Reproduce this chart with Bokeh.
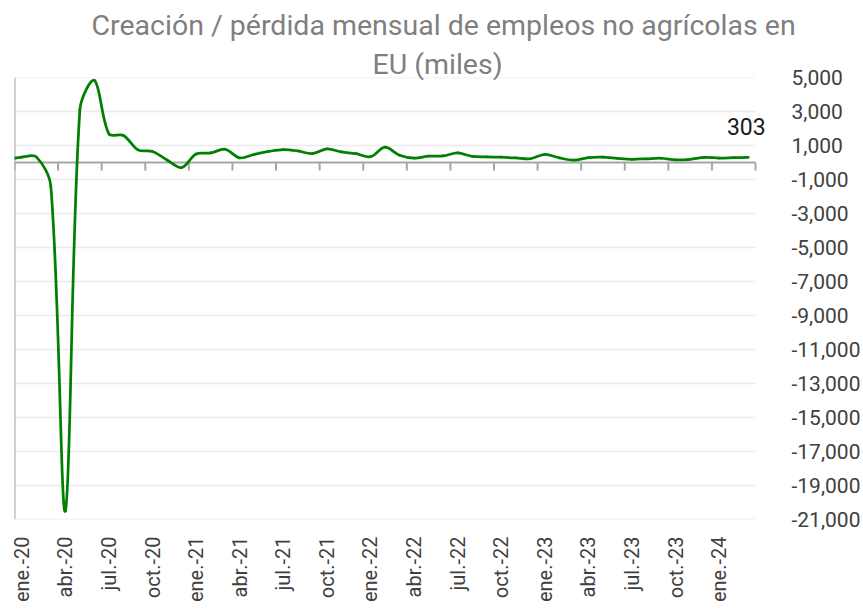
import math
import numpy as np
from bokeh.plotting import figure
from bokeh.models import Range1d, FixedTicker, NumeralTickFormatter, Title
from bokeh.core.properties import value
from bokeh.embed import file_html
from bokeh.resources import INLINE

# ---------------- data ----------------
title_line1 = "Creación / pérdida mensual de empleos no agrícolas en"
title_line2 = "EU (miles)"

# monthly change in nonfarm payrolls (thousands), dic.-19 .. mar.-24
jobs_2019 = [180]
jobs_2020 = [315, 330, -1400, -20500, 3100, 4830, 1680, 1590, 740, 650, 150, -300]
jobs_2021 = [500, 560, 780, 270, 480, 650, 760, 680, 520, 800, 620, 520]
jobs_2022 = [340, 900, 430, 260, 370, 390, 560, 360, 330, 310, 270, 220]
jobs_2023 = [480, 270, 140, 290, 310, 240, 190, 220, 250, 160, 190, 300]
jobs_2024 = [260, 280, 303]

tick_labels = ["ene.-20", "abr.-20", "jul.-20", "oct.-20",
               "ene.-21", "abr.-21", "jul.-21", "oct.-21",
               "ene.-22", "abr.-22", "jul.-22", "oct.-22",
               "ene.-23", "abr.-23", "jul.-23", "oct.-23",
               "ene.-24"]
y_ticks = list(range(-21000, 5001, 2000))

# ---------------- layout constants (pixels) ----------------
W, H = 863, 612
FL, FT, FB = 14, 73, 519          # frame left / top / bottom
DATA_R = 758                      # right end of the category area
FR = 769                          # frame right (room for end label)

jobs = jobs_2019 + jobs_2020 + jobs_2021 + jobs_2022 + jobs_2023 + jobs_2024
ys = np.array(jobs, dtype=float)
xs = np.arange(len(jobs), dtype=float) - 1.0   # ene.-20 -> 0
n_visible = len(jobs) - 1
x_start, x_end = -0.5, n_visible - 0.5

SX = (DATA_R - FL) / (x_end - x_start)
SY = (FB - FT) / (y_ticks[-1] - y_ticks[0])
x_frame_end = x_end + (FR - DATA_R) / SX

def dist(i, j):
    return math.hypot((xs[j] - xs[i]) * SX, (ys[j] - ys[i]) * SY)

n = len(xs)
bx0, by0, bx1, by1, cx0, cy0, cx1, cy1 = [], [], [], [], [], [], [], []
for i in range(n - 1):
    a, b, c = max(i - 1, 0), i + 1, min(i + 2, n - 1)
    d01, d12, d23 = dist(a, i), dist(i, b), dist(b, c)
    f1 = d12 / (d01 + d12) / 3 if d01 + d12 > 0 else 0
    f2 = d12 / (d12 + d23) / 3 if d12 + d23 > 0 else 0
    bx0.append(xs[i]); by0.append(ys[i]); bx1.append(xs[b]); by1.append(ys[b])
    cx0.append(xs[i] + (xs[b] - xs[a]) * f1); cy0.append(ys[i] + (ys[b] - ys[a]) * f1)
    cx1.append(xs[b] - (xs[c] - xs[i]) * f2); cy1.append(ys[b] - (ys[c] - ys[i]) * f2)

# ---------------- figure ----------------
p = figure(width=W, height=H, output_backend="svg", toolbar_location=None,
           x_range=Range1d(x_start, x_frame_end), y_range=Range1d(y_ticks[0], y_ticks[-1]),
           y_axis_location="right",
           min_border_left=FL, min_border_right=W - FR, min_border_top=FT, min_border_bottom=H - FB)
p.outline_line_color = None
p.xgrid.grid_line_color = None
p.ygrid.grid_line_color = None

# title: two lines (line 2 nearest the plot)
TITLE_COLOR = "#7f7f7f"
p.title.text = ""
p.add_layout(Title(text=title_line2, align="left", offset=358, standoff=-6,
                   text_font="Roboto", text_font_size="28.5px", text_font_style="normal",
                   text_color=TITLE_COLOR), "above")
p.add_layout(Title(text=title_line1, align="left", offset=77, standoff=13,
                   text_font="Roboto", text_font_size="28.5px", text_font_style="normal",
                   text_color=TITLE_COLOR), "above")

# right y axis
p.yaxis.ticker = FixedTicker(ticks=y_ticks)
p.yaxis.formatter = NumeralTickFormatter(format="0,0")
p.yaxis.axis_line_color = None
p.yaxis.major_tick_line_color = None
p.yaxis.minor_tick_line_color = None
p.yaxis.major_tick_out = 0
p.yaxis.major_tick_in = 0
p.yaxis.major_label_standoff = 25
p.yaxis.major_label_text_font = "Roboto"
p.yaxis.major_label_text_font_size = "21px"
p.yaxis.major_label_text_color = "#404040"

# bottom x axis (labels only, at low position)
label_pos = list(range(0, n_visible, 3))
p.xaxis.ticker = FixedTicker(ticks=label_pos)
p.xaxis.major_label_overrides = {pos: lab for pos, lab in zip(label_pos, tick_labels)}
p.xaxis.axis_line_color = None
p.xaxis.major_tick_line_color = None
p.xaxis.minor_tick_line_color = None
p.xaxis.major_tick_out = 0
p.xaxis.major_tick_in = 0
p.xaxis.major_label_orientation = math.pi / 2
p.xaxis.major_label_standoff = 17
p.xaxis.major_label_text_font = "Roboto"
p.xaxis.major_label_text_font_size = "20px"
p.xaxis.major_label_text_color = "#404040"

# horizontal gridlines over the category area
p.segment(x0=[x_start] * len(y_ticks), y0=y_ticks, x1=[x_end] * len(y_ticks), y1=y_ticks,
          line_color="#ebebeb", line_width=1.5)

# zero line, left line and quarter tick marks
axis_gray = "#a6a6a6"
p.segment(x0=[x_start], y0=[0], x1=[x_end], y1=[0], line_color=axis_gray, line_width=2)
p.segment(x0=[x_start], y0=[y_ticks[0]], x1=[x_start], y1=[y_ticks[-1]],
          line_color=axis_gray, line_width=2)
bounds = [x_start + k for k in range(0, n_visible + 1, 3)]
tick_len = 8 / SY
p.segment(x0=bounds, y0=[0] * len(bounds), x1=bounds, y1=[-tick_len] * len(bounds),
          line_color=axis_gray, line_width=2)

# smoothed series line
p.bezier(x0=bx0, y0=by0, x1=bx1, y1=by1, cx0=cx0, cy0=cy0, cx1=cx1, cy1=cy1,
         line_color="#008000", line_width=2.75, line_cap="round")

# last value label
p.text(x=[xs[-1]], y=[ys[-1]], text=[f"{int(ys[-1])}"], text_align="center",
       text_baseline="alphabetic", y_offset=-31, x_offset=-2,
       text_font=value("Roboto"), text_font_size="23px", text_color="#1a1a1a")

open("out.html", "w").write(file_html(p, INLINE))
